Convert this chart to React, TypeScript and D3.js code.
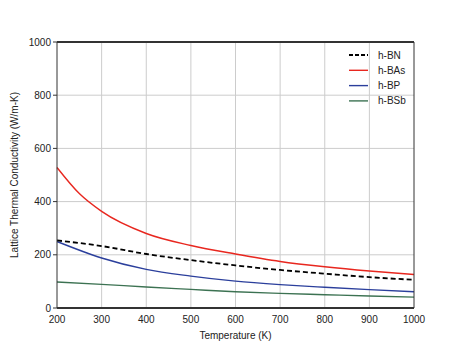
import React, { useEffect, useRef } from 'react';
import * as d3 from 'd3';

// temperatures (K) and lattice thermal conductivity (W/m-K)
const temps = [200, 300, 400, 500, 600, 700, 800, 900, 1000];
const bnValues = [254, 233, 203, 180, 160, 143, 129, 116, 106];
const basTemps = [200, 250, 300, 400, 500, 600, 700, 800, 900, 1000];
const basValues = [528, 430, 363, 280, 235, 203, 175, 155, 139, 126];
const bpValues = [250, 188, 145, 120, 101, 88, 78, 69, 61];
const bsbValues = [98, 89, 79, 70, 61, 55, 50, 45, 41];

const xTicks = [200, 300, 400, 500, 600, 700, 800, 900, 1000];
const yTicks = [0, 200, 400, 600, 800, 1000];

const App = () => {
  const svgRef = useRef<SVGSVGElement | null>(null);

  useEffect(() => {
    if (!svgRef.current) return;
    const svg = d3.select(svgRef.current);
    svg.selectAll('*').remove();

    const left = 57, right = 414, top = 42, bottom = 308;
    const font = 'Liberation Sans, Arial, sans-serif';

    const x = d3.scaleLinear().domain([200, 1000]).range([left, right]);
    const y = d3.scaleLinear().domain([0, 1000]).range([bottom, top]);

    // grid
    const grid = svg.append('g').attr('stroke', '#cccccc').attr('stroke-width', 1);
    xTicks.slice(1, -1).forEach(t => {
      grid.append('line').attr('x1', x(t)).attr('x2', x(t)).attr('y1', top).attr('y2', bottom);
    });
    yTicks.slice(1, -1).forEach(t => {
      grid.append('line').attr('x1', left).attr('x2', right).attr('y1', y(t)).attr('y2', y(t));
    });

    const series = [
      { name: 'h-BN', xs: temps, ys: bnValues, color: '#000000', width: 1.8, dash: '5,3' },
      { name: 'h-BAs', xs: basTemps, ys: basValues, color: '#e8271f', width: 1.4, dash: null },
      { name: 'h-BP', xs: temps, ys: bpValues, color: '#2b3f9c', width: 1.4, dash: null },
      { name: 'h-BSb', xs: temps, ys: bsbValues, color: '#3c7252', width: 1.4, dash: null },
    ];

    const line = d3.line<[number, number]>()
      .x(d => x(d[0]))
      .y(d => y(d[1]))
      .curve(d3.curveMonotoneX);

    // draw in back-to-front order so dashed line sits on top
    [series[3], series[2], series[1], series[0]].forEach(s => {
      const pts = s.xs.map((t, i) => [t, s.ys[i]] as [number, number]);
      const p = svg.append('path')
        .attr('fill', 'none')
        .attr('stroke', s.color)
        .attr('stroke-width', s.width)
        .attr('d', line(pts));
      if (s.dash) p.attr('stroke-dasharray', s.dash);
    });

    // frame
    const frame = svg.append('g').attr('stroke', '#333333');
    frame.append('line').attr('x1', left).attr('x2', right).attr('y1', top).attr('y2', top).attr('stroke-width', 2);
    frame.append('line').attr('x1', left).attr('x2', right).attr('y1', bottom).attr('y2', bottom).attr('stroke-width', 2);
    frame.append('line').attr('x1', left).attr('x2', left).attr('y1', top).attr('y2', bottom).attr('stroke-width', 1);
    frame.append('line').attr('x1', right).attr('x2', right).attr('y1', top).attr('y2', bottom).attr('stroke-width', 1);

    // y ticks
    yTicks.forEach(t => {
      svg.append('line').attr('x1', left - 4).attr('x2', left).attr('y1', y(t)).attr('y2', y(t))
        .attr('stroke', '#333333');
      svg.append('text').attr('x', left - 6).attr('y', y(t)).attr('dy', '0.35em')
        .attr('text-anchor', 'end').attr('font-family', font).attr('font-size', 10)
        .attr('fill', '#222').text(t);
    });

    // x ticks
    xTicks.forEach(t => {
      svg.append('text').attr('x', x(t)).attr('y', bottom + 15)
        .attr('text-anchor', 'middle').attr('font-family', font).attr('font-size', 10)
        .attr('fill', '#222').text(t);
    });

    // axis titles
    svg.append('text').attr('x', (left + right) / 2).attr('y', 339)
      .attr('text-anchor', 'middle').attr('font-family', font).attr('font-size', 10)
      .attr('fill', '#222').text('Temperature (K)');
    svg.append('text').attr('transform', `translate(18,${(top + bottom) / 2}) rotate(-90)`)
      .attr('text-anchor', 'middle').attr('font-family', font).attr('font-size', 10)
      .attr('fill', '#222').text('Lattice Thermal Conductivity (W/m-K)');

    // legend
    series.forEach((s, i) => {
      const ly = 55 + i * 15.3;
      const l = svg.append('line').attr('x1', 349).attr('x2', 368).attr('y1', ly).attr('y2', ly)
        .attr('stroke', s.color).attr('stroke-width', s.width);
      if (s.dash) l.attr('stroke-dasharray', '4,2');
      svg.append('text').attr('x', 378).attr('y', ly).attr('dy', '0.35em')
        .attr('font-family', font).attr('font-size', 10).attr('fill', '#222').text(s.name);
    });
  }, []);

  return (
    <svg ref={svgRef} width={461} height={346} style={{ position: 'absolute', left: 0, top: 0, background: '#fff' }} />
  );
};

export default App;
